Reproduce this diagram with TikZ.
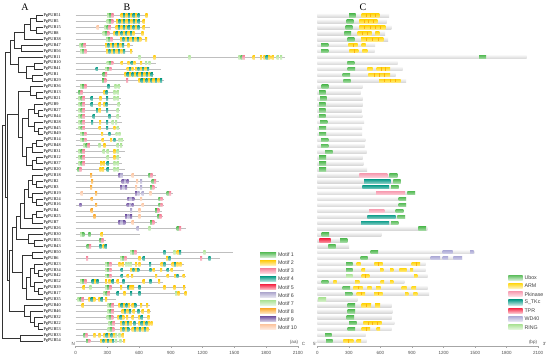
\documentclass[tikz,border=0pt]{standalone}
\usepackage{fontspec}
\setmainfont{Liberation Serif}
\setsansfont{Liberation Sans}
\definecolor{m1}{HTML}{5DBE5D}
\definecolor{m2}{HTML}{FFCC14}
\definecolor{m3}{HTML}{F5879E}
\definecolor{m4}{HTML}{14A08C}
\definecolor{m5}{HTML}{F5304E}
\definecolor{m6}{HTML}{B2ACD0}
\definecolor{m7}{HTML}{B0E49C}
\definecolor{m8}{HTML}{FBAE3B}
\definecolor{m9}{HTML}{7A5FA8}
\definecolor{m10}{HTML}{FCC8A6}
\definecolor{dU}{HTML}{5DBE5D}
\definecolor{dARM}{HTML}{FFD81A}
\definecolor{dPK}{HTML}{F7A0B4}
\definecolor{dST}{HTML}{15A08E}
\definecolor{dTPR}{HTML}{F52D4A}
\definecolor{dWD}{HTML}{B0AED8}
\definecolor{dRING}{HTML}{B0E49C}
\newcommand\mtf[3]{\shade[top color=m#3, bottom color=m#3!45] ({#2},{ry(#1)-1.9}) rectangle ++(2.2,3.8);}
\newcommand\UB[2]{\mtf{#1}{#2}{7}\mtf{#1}{#2+2.2}{1}\mtf{#1}{#2+4.4}{3}}
\newcommand\UC[2]{\mtf{#1}{#2}{1}\mtf{#1}{#2+2.2}{3}}
\newcommand\AR[3]{\foreach \k in {1,...,#3}{\pgfmathtruncatemacro\cc{ifthenelse(mod(\k,2)==1,2,4)}\shade[top color=m\cc, bottom color=m\cc!45] ({#2+2.4*(\k-1)},{ry(#1)-1.9}) rectangle ++(2.2,3.8);}}
\newcommand\DM[4]{\shade[top color=#4, bottom color=#4!55] ({#2},{ry(#1)-1.7}) rectangle ({#3},{ry(#1)+1.7});}
\newcommand\DA[3]{\DM{#1}{#2}{#3}{dARM}\pgfmathtruncatemacro\nn{max(1,round((#3-#2)/5))}\ifnum\nn>1 \foreach \k in {2,...,\nn}{\draw[dARM!55!orange, line width=0.3pt] ({#2+(#3-#2)*(\k-1)/\nn},{ry(#1)-1.7}) -- ++(0,3.4);}\fi}
\begin{document}
\begin{tikzpicture}[x=1pt,y=-1pt,
  declare function={ry(\r)=15.7+5.915*(\r-1);},
  tree/.style={draw=black!80, line width=0.4pt},
  leaf/.style={anchor=west, inner sep=0.3pt, font=\fontsize{4.3}{4.3}\selectfont},
  bline/.style={draw=gray!50, line width=0.7pt},
  cbar/.style={top color=gray!8, bottom color=gray!32, draw=none},
  title/.style={font=\fontsize{10}{10}\selectfont, inner sep=0pt},
  axis/.style={draw=gray!70, line width=0.5pt},
  tick/.style={font=\sffamily\fontsize{4.5}{4.5}\selectfont, text=black!70, inner sep=0.5pt},
  legtext/.style={font=\sffamily\fontsize{5.3}{5.3}\selectfont, text=black!75, anchor=west, inner sep=0pt}]
\useasboundingbox (0,0) rectangle (550,358);
\fill[white] (0,0) rectangle (550,358);
% titles
\node[title] (tA) at (25,7) {A};
\node[title] (tB) at (127,7) {B};
\node[title] (tC) at (363,7) {C};
% leaves
\foreach \n [count=\i] in {51,5,15,8,38,47,56,11,10,41,1,29,36,13,21,9,27,44,28,45,49,14,48,31,12,37,20,18,2,3,19,24,16,4,25,7,26,30,55,43,50,6,23,34,42,52,39,17,35,40,46,32,22,53,33,54}
  {\node[leaf] (L\i) at (43,{ry(\i)}) {PgPUB\n};}
% internal nodes
\foreach \nm/\xx/\yy in {a1/36/1.5,a2/36/3.5,a3/30/2.5,a4/24/3.75,a5/21/6.5,a6/14/5.125,
  b1/34/9.5,b2/32/11.5,b3/26/10.5,b4/18/9.25,c0/10/7.1875,
  c1/36/14.5,c2/30/13.75,c3/38/17.5,c4/34/16.75,c5/38/20.5,c6/34/19.75,c7/28/18.25,
  c8/36/22.5,c9/32/23.25,c10/36/25.5,c11/32/26.25,c12/26/24.75,c13/22/21.5,c14/18/17.625,
  d1/36/29.5,d2/32/28.75,d3/36/32.5,d4/32/31.75,d5/28/30.25,d6/36/34.5,d7/32/35.25,d8/24/32.75,d9/20/34.875,
  e1/34/39.5,e2/28/38.75,
  f1/32/41.5,f2/38/44.5,f3/34/43.75,f4/38/47.5,f5/34/46.75,f6/30/45.25,f7/26/47.125,f8/22/44.3125,
  g1/38/53.5,g2/34/52.75,g3/30/51.875,g4/24/50.9375,
  h1/16/36.8125,h2/12/40.5625,h3/9/45.75,h4/7/31.6875,h5/5/19.4375,i1/20/55.5,root/2/37.47}
  {\coordinate (\nm) at (\xx,{ry(\yy)});}
% tree edges
\foreach \p/\c in {a1/L1.west,a1/L2.west,a2/L3.west,a2/L4.west,a3/a1,a3/a2,a4/a3,a4/L5.west,a5/L6.west,a5/L7.west,a6/a4,a6/a5,
  b1/L9.west,b1/L10.west,b2/L11.west,b2/L12.west,b3/b1,b3/b2,b4/L8.west,b4/b3,c0/a6,c0/b4,
  c1/L14.west,c1/L15.west,c2/L13.west,c2/c1,c3/L17.west,c3/L18.west,c4/L16.west,c4/c3,c5/L20.west,c5/L21.west,c6/L19.west,c6/c5,c7/c4,c7/c6,
  c8/L22.west,c8/L23.west,c9/c8,c9/L24.west,c10/L25.west,c10/L26.west,c11/c10,c11/L27.west,c12/c9,c12/c11,c13/c7,c13/c12,c14/c2,c14/c13,
  d1/L29.west,d1/L30.west,d2/L28.west,d2/d1,d3/L32.west,d3/L33.west,d4/L31.west,d4/d3,d5/d2,d5/d4,d6/L34.west,d6/L35.west,d7/d6,d7/L36.west,d8/d5,d8/d7,d9/d8,d9/L37.west,
  e1/L39.west,e1/L40.west,e2/L38.west,e2/e1,
  f1/L41.west,f1/L42.west,f2/L44.west,f2/L45.west,f3/L43.west,f3/f2,f4/L47.west,f4/L48.west,f5/L46.west,f5/f4,f6/f3,f6/f5,f7/f6,f7/L49.west,f8/f1,f8/f7,
  g1/L53.west,g1/L54.west,g2/L52.west,g2/g1,g3/L51.west,g3/g2,g4/L50.west,g4/g3,
  h1/d9,h1/e2,h2/h1,h2/f8,h3/h2,h3/g4,h4/c14,h4/h3,h5/c0,h5/h4,i1/L55.west,i1/L56.west,root/h5,root/i1}
  {\draw[tree] (\p) |- (\c);}
% gene lines (B) and bars (C)
\foreach \r/\l in {1/71.7,2/69.4,3/74,4/67.7,5/70.7,6/57.7,7/57.4,8/209.4,9/80.4,10/85.4,11/78.4,12/88.7,13/45,14/43.4,15/45.4,16/45.4,17/44.4,18/45,19/46.7,20/44.7,21/44.7,22/48,23/47.4,24/49.4,25/45.4,26/46,27/49.7,28/80,29/83.4,30/81.4,31/97.7,32/88.7,33/88.7,34/86,35/87.7,36/81,37/110,38/64,39/30,40/31.7,41/157,42/144.7,43/108.4,44/108.4,45/110.4,46/87,47/110.4,48/111.7,49/40,50/74.4,51/75,52/74.4,53/77,54/74.4,55/48.4,56/49.4}
  {\draw[bline] (75.7,{ry(\r)}) -- ++(\l,0);
   \shade[cbar] (317.3,{ry(\r)-1.7}) rectangle ++(\l,3.4);}
% motifs (B)
\UB{1}{107}\AR{1}{120.7}{8}\mtf{1}{145.3}{2}
\UB{2}{106.7}\AR{2}{116}{10}\mtf{2}{142.7}{2}
\mtf{3}{96.7}{10}\UB{3}{104.3}\AR{3}{115.7}{10}\mtf{3}{142.7}{2}
\UB{4}{102.7}\AR{4}{113.3}{9}\mtf{4}{141.3}{2}
\UB{5}{106}\AR{5}{120}{9}\mtf{5}{145}{2}
\UB{6}{79.3}\AR{6}{105}{8}\mtf{6}{127.3}{2}
\UB{7}{80}\AR{7}{106}{8}\mtf{7}{130}{2}
\mtf{8}{138.3}{7}\mtf{8}{153.3}{2}\mtf{8}{188.3}{7}\UB{8}{238.3}\mtf{8}{252.7}{2}\mtf{8}{260}{2}\AR{8}{263.3}{3}\mtf{8}{271.7}{2}\mtf{8}{276.7}{7}\mtf{8}{280}{7}
\UB{9}{106.7}\mtf{9}{120.7}{2}\mtf{9}{127.3}{2}\mtf{9}{130.7}{4}\mtf{9}{133.3}{2}\mtf{9}{140}{2}\mtf{9}{145}{7}\mtf{9}{148.3}{7}
\mtf{10}{95.7}{4}\UB{10}{105}\AR{10}{126.7}{3}\AR{10}{135}{6}
\UC{11}{102.7}\AR{11}{124.3}{12}
\UC{12}{102}\mtf{12}{126}{3}\AR{12}{138.3}{10}
\UB{13}{80}\mtf{13}{107.3}{4}\mtf{13}{114.3}{7}\mtf{13}{117.7}{7}
\UC{14}{78.3}\mtf{14}{103.3}{2}\mtf{14}{105.5}{4}\mtf{14}{113.3}{7}\mtf{14}{116.7}{7}
\UB{15}{78.3}\mtf{15}{90.7}{4}\mtf{15}{99.3}{2}\mtf{15}{106}{4}\mtf{15}{113.3}{7}\mtf{15}{116.7}{7}
\UB{16}{78.3}\mtf{16}{90.7}{4}\mtf{16}{98.7}{2}\mtf{16}{103.3}{2}\mtf{16}{105.5}{4}\mtf{16}{117.7}{7}
\UB{17}{78.3}\mtf{17}{96}{4}\mtf{17}{98.7}{2}\mtf{17}{106}{4}\mtf{17}{116.7}{7}
\UB{18}{78.3}\mtf{18}{92.7}{4}\mtf{18}{108.3}{4}\mtf{18}{116.7}{7}
\UB{19}{78.3}\mtf{19}{91}{4}\mtf{19}{99}{2}\mtf{19}{106}{4}\mtf{19}{111.7}{7}\mtf{19}{115}{7}
\UB{20}{78.3}\mtf{20}{98.7}{2}\mtf{20}{106}{4}\mtf{20}{113.3}{2}\mtf{20}{116.7}{7}
\UB{21}{80}\mtf{21}{101}{2}\mtf{21}{108.3}{4}\mtf{21}{115.5}{7}\mtf{21}{118.3}{7}
\UB{22}{80}\mtf{22}{101.7}{2}\mtf{22}{110}{2}\mtf{22}{113.3}{4}\mtf{22}{118.3}{7}\mtf{22}{120.7}{7}
\UB{23}{83.3}\mtf{23}{98.3}{7}\mtf{23}{103.3}{2}\mtf{23}{116.7}{7}\mtf{23}{120}{7}
\UB{24}{78.3}\mtf{24}{102.7}{7}\mtf{24}{106.7}{7}\mtf{24}{113.3}{2}\mtf{24}{116.7}{7}
\UB{25}{78.3}\mtf{25}{106.7}{7}\mtf{25}{113.3}{2}\mtf{25}{116.7}{7}
\UB{26}{78.3}\mtf{26}{100}{2}\mtf{26}{102.7}{2}\mtf{26}{106.7}{4}\mtf{26}{113.3}{7}\mtf{26}{116.7}{7}
\UC{27}{77.3}\mtf{27}{99.3}{2}\mtf{27}{102}{2}\mtf{27}{106.7}{4}\mtf{27}{113.3}{7}\mtf{27}{116.7}{7}
\mtf{28}{90}{8}\mtf{28}{118.3}{9}\mtf{28}{120.7}{6}\mtf{28}{131.7}{10}\UC{28}{148.3}
\mtf{29}{91}{8}\mtf{29}{121.7}{9}\mtf{29}{124.1}{6}\mtf{29}{126.5}{9}\mtf{29}{136}{10}\mtf{29}{140}{6}\UC{29}{151.7}
\mtf{30}{90}{8}\mtf{30}{120}{9}\mtf{30}{122.4}{6}\mtf{30}{124.8}{9}\mtf{30}{135}{10}\mtf{30}{140}{6}\UC{30}{150}
\mtf{31}{80.7}{10}\mtf{31}{95}{8}\mtf{31}{135}{9}\mtf{31}{137.4}{6}\mtf{31}{141.7}{6}\mtf{31}{149.3}{10}\UC{31}{166.7}
\mtf{32}{90.7}{8}\mtf{32}{127.3}{9}\mtf{32}{129.7}{6}\mtf{32}{132.1}{9}\mtf{32}{140}{10}\UC{32}{158.3}
\mtf{33}{79.3}{9}\mtf{33}{95}{8}\mtf{33}{126.7}{9}\mtf{33}{129.1}{6}\mtf{33}{131.5}{9}\mtf{33}{141.7}{10}\UC{33}{158.3}
\mtf{34}{90.7}{8}\mtf{34}{130}{6}\mtf{34}{138.3}{10}\UC{34}{155}
\mtf{35}{93.3}{8}\mtf{35}{125}{9}\mtf{35}{127.4}{6}\mtf{35}{129.8}{9}\mtf{35}{138.3}{10}\UC{35}{157.3}
\mtf{36}{118.3}{9}\mtf{36}{120.7}{6}\mtf{36}{123.1}{9}\mtf{36}{131.7}{10}\UC{36}{150}
\mtf{37}{136.7}{6}\mtf{37}{148.3}{7}\UC{37}{176.7}
\mtf{38}{80}{7}\mtf{38}{82.2}{1}\mtf{38}{88.3}{1}\mtf{38}{100.7}{2}
\UC{39}{99.3}
\UC{40}{86.7}\mtf{40}{99.3}{4}\mtf{40}{102.5}{2}\mtf{40}{104.7}{4}
\UB{41}{130}\mtf{41}{163.3}{4}\mtf{41}{173.3}{7}\mtf{41}{176.7}{2}\mtf{41}{179}{4}\mtf{41}{203.3}{7}
\mtf{42}{86}{3}\UB{42}{120}\mtf{42}{138.3}{2}\mtf{42}{142.7}{4}\mtf{42}{166}{2}\mtf{42}{168.3}{4}\mtf{42}{200}{3}\mtf{42}{208.3}{4}
\UB{43}{105}\mtf{43}{118.3}{2}\mtf{43}{121.7}{2}\mtf{43}{125}{7}\mtf{43}{127.3}{7}\mtf{43}{129.7}{7}\mtf{43}{135}{2}\mtf{43}{138.3}{2}\mtf{43}{149}{4}\mtf{43}{160.7}{2}\mtf{43}{163.3}{4}\mtf{43}{171.7}{2}\mtf{43}{174}{4}\mtf{43}{176.3}{2}\mtf{43}{179.3}{2}
\UB{44}{105}\mtf{44}{120.7}{4}\AR{44}{130}{4}\mtf{44}{149.3}{4}\mtf{44}{152.7}{2}\mtf{44}{160}{2}\mtf{44}{166.7}{4}\mtf{44}{170.7}{2}
\UB{45}{105}\mtf{45}{120.7}{4}\mtf{45}{126.7}{2}\mtf{45}{131}{2}\mtf{45}{155}{2}\mtf{45}{166.7}{2}\mtf{45}{174}{2}\mtf{45}{176.3}{4}\mtf{45}{182.7}{2}
\UB{46}{80}\mtf{46}{91.7}{4}\mtf{46}{94}{2}\mtf{46}{96.3}{4}\mtf{46}{105}{2}\mtf{46}{108.3}{2}\mtf{46}{111.7}{4}\mtf{46}{116.7}{2}\mtf{46}{122.3}{4}\mtf{46}{142.7}{2}\mtf{46}{149.3}{4}\mtf{46}{158}{2}
\mtf{47}{82.7}{2}\mtf{47}{89.3}{7}\UB{47}{105}\mtf{47}{120}{2}\mtf{47}{127.3}{4}\mtf{47}{129.7}{2}\mtf{47}{131.9}{2}\mtf{47}{138.3}{4}\mtf{47}{163.3}{2}\mtf{47}{173.3}{2}\mtf{47}{183}{2}
\UB{48}{103.3}\mtf{48}{116.7}{4}\mtf{48}{123.3}{2}\mtf{48}{130}{4}\mtf{48}{138.3}{4}\mtf{48}{175}{7}\mtf{48}{177.4}{2}\mtf{48}{184.5}{2}
\UB{49}{77.3}\AR{49}{88.3}{3}\AR{49}{98.3}{2}\mtf{49}{105}{2}
\mtf{50}{81.7}{2}\UB{50}{107.3}\AR{50}{118.3}{5}\AR{50}{131.7}{2}\mtf{50}{140}{2}\mtf{50}{146}{2}
\UB{51}{107.3}\AR{51}{121.7}{4}\mtf{51}{132.7}{2}\mtf{51}{137.3}{4}\mtf{51}{141.7}{2}\mtf{51}{147.3}{2}
\UB{52}{106.7}\AR{52}{117.3}{3}\mtf{52}{126}{2}\mtf{52}{131.7}{2}\AR{52}{138.3}{2}\mtf{52}{147.3}{2}
\UB{53}{108.3}\AR{53}{120}{5}\mtf{53}{133.3}{4}\AR{53}{138.3}{5}\mtf{53}{150.5}{2}
\UB{54}{107.7}\AR{54}{120}{4}\AR{54}{131.7}{4}\AR{54}{141.7}{3}
\UC{55}{83.3}\mtf{55}{93.3}{2}\mtf{55}{98.3}{2}\AR{55}{103.3}{5}\mtf{55}{115}{7}\mtf{55}{118.3}{7}\mtf{55}{121.7}{2}
\UC{56}{86}\AR{56}{100}{6}\mtf{56}{115}{7}\mtf{56}{119.3}{7}\mtf{56}{123}{2}
% domains (C)
\DM{1}{349}{355.7}{dU}\DA{1}{361.7}{379.3}
\DM{2}{346.7}{353.3}{dU}\DA{2}{359.3}{377.3}
\DM{3}{345.7}{352.3}{dU}\DA{3}{359.3}{385.3}
\DM{4}{344.3}{351}{dU}\DA{4}{357.7}{371.7}\DA{4}{375.3}{379.3}
\DM{5}{347.7}{354.3}{dU}\DA{5}{361}{383.3}
\DM{6}{321}{328.3}{dU}\DA{6}{348.3}{357.7}\DA{6}{361.7}{365.7}
\DM{7}{321}{328.3}{dU}\DA{7}{349.3}{358.3}\DA{7}{362.3}{367.3}
\DM{8}{479}{486}{dU}
\DM{9}{347.3}{354.3}{dU}
\DM{10}{347.7}{355}{dU}\DA{10}{367.3}{372.7}\DA{10}{376.7}{390}
\DM{11}{342.7}{350}{dU}\DA{11}{368.3}{390}
\DM{12}{343.3}{350.7}{dU}\DA{12}{379}{400.7}
\DM{13}{321.7}{328.3}{dU}
\DM{14}{319}{325.7}{dU}\DM{15}{320}{326.7}{dU}\DM{16}{319}{325.7}{dU}\DM{17}{319}{325.7}{dU}\DM{18}{319}{325.7}{dU}
\DM{19}{320}{327.3}{dU}\DM{20}{319}{326}{dU}\DM{21}{319}{326}{dU}\DM{22}{321}{328.3}{dU}\DM{23}{321}{328.3}{dU}
\DM{24}{325}{332.7}{dU}\DM{25}{319}{326}{dU}\DM{26}{319}{326}{dU}\DM{27}{319}{326}{dU}
\DM{28}{359.3}{387.3}{dPK}\DM{28}{389.3}{397.3}{dU}
\DM{29}{364}{390.7}{dST}\DM{29}{393.3}{400.7}{dU}
\DM{30}{362.3}{389}{dST}\DM{30}{391}{398.7}{dU}
\DM{31}{376}{405}{dPK}\DM{31}{407.3}{415}{dU}
\DM{32}{398.7}{406}{dU}\DM{33}{398.7}{406}{dU}
\DM{34}{369}{384.3}{dPK}\DM{34}{395.7}{403.3}{dU}
\DM{35}{367.3}{395.7}{dST}\DM{35}{397.3}{405}{dU}
\DM{36}{361}{389}{dST}\DM{36}{391}{398.3}{dU}
\DM{37}{418.3}{426}{dU}
\DM{38}{321.7}{329}{dU}
\DM{39}{319.3}{330.7}{dTPR}\DM{39}{340}{347.3}{dU}
\DM{40}{328.3}{335.7}{dU}
\DM{41}{370.7}{378}{dU}\DM{41}{442.7}{452.7}{dWD}\DM{41}{470}{473.7}{dWD}
\DM{42}{360.7}{367.7}{dU}\DM{42}{430.7}{440}{dWD}\DM{42}{442.7}{448}{dWD}\DM{42}{453.3}{462}{dWD}
\DM{43}{346}{352.7}{dU}\DA{43}{356.7}{360.7}\DA{43}{374.3}{382.7}\DA{43}{411.7}{420}
\DM{44}{346}{352.7}{dU}\DA{44}{361.7}{365}\DA{44}{380}{383.3}\DA{44}{390}{393.3}\DA{44}{399.3}{406.7}\DA{44}{410}{413}
\DM{45}{346}{352.7}{dRING}\DA{45}{361.7}{369.3}\DA{45}{414}{417.3}
\DM{46}{321.7}{328.3}{dU}\DA{46}{333.3}{336.7}\DA{46}{355}{359.3}\DA{46}{380.7}{384}\DA{46}{390}{393.3}
\DM{47}{342.7}{350}{dU}\DA{47}{353.3}{362.7}\DA{47}{367.3}{371.7}\DA{47}{376}{380.7}\DA{47}{401.7}{406.7}\DA{47}{411.7}{416}
\DM{48}{345}{352.3}{dU}\DA{48}{356.7}{365}\DA{48}{374}{382.7}\DA{48}{405}{408.3}\DA{48}{413.3}{417.3}
\DM{49}{318.3}{326}{dRING}
\DM{50}{347.7}{355}{dU}\DA{50}{361.7}{371}\DA{50}{375}{380}
\DM{51}{347.7}{355}{dU}
\DM{52}{346.7}{354}{dU}
\DM{53}{349}{356.7}{dU}\DA{53}{363.3}{381.7}
\DM{54}{347.7}{355}{dU}\DA{54}{361.7}{370}\DA{54}{376.7}{380}
\DM{55}{325}{331.7}{dU}
\DM{56}{326}{332.7}{dU}\DA{56}{343.3}{353.3}\DA{56}{356.7}{361}
% legend B
\foreach \t [count=\k] in {Motif 1,Motif 2,Motif 3,Motif 4,Motif 5,Motif 6,Motif 7,Motif 8,Motif 9,Motif 10}
  {\shade[top color=m\k, bottom color=m\k!25] (260,{255+8.03*(\k-1)-2.6}) rectangle (276,{255+8.03*(\k-1)+2.6});
   \node[legtext] (lb\k) at (277.8,{255+8.03*(\k-1)}) {\t};}
% legend C
\foreach \t/\c [count=\k] in {Ubox/dU,ARM/dARM,Pkinase/dPK,S\_TKc/dST,TPR/dTPR,WD40/dWD,RING/dRING}
  {\shade[top color=\c, bottom color=\c!25] (508.3,{277.7+8.27*(\k-1)-2.6}) rectangle (522.7,{277.7+8.27*(\k-1)+2.6});
   \node[legtext] (lc\k) at (524.3,{277.7+8.27*(\k-1)}) {\t};}
% axis B
\coordinate (ab0) at (75.7,346.5);
\coordinate (ab1) at (297.8,346.5);
\draw[axis] (ab0) -- (ab1);
\foreach \v [count=\k from 0] in {0,300,600,900,1200,1500,1800,2100}
  {\draw[axis] ({75.7+31.73*\k},346.5) -- ++(0,1.4);
   \node[tick] (tb\k) at ({75.7+31.73*\k},352.6) {\v};}
\node[tick] (bN) at (73.2,343.8) {N};
\node[tick] (bCt) at (303.6,344) {C};
\node[tick] (baa) at (294,342) {(aa)};
% axis C
\coordinate (ac0) at (317.3,346.5);
\coordinate (ac1) at (538.2,346.5);
\draw[axis] (ac0) -- (ac1);
\foreach \v [count=\k from 0] in {0,300,600,900,1200,1500,1800,2100}
  {\draw[axis] ({317.3+31.56*\k},346.5) -- ++(0,1.4);
   \node[tick] (tc\k) at ({317.3+31.56*\k},352.6) {\v};}
\node[tick] (c5) at (314.8,344) {5'};
\node[tick] (c3) at (544.6,343.6) {3'};
\node[tick] (cbp) at (533,342) {(bp)};
\end{tikzpicture}
\end{document}
